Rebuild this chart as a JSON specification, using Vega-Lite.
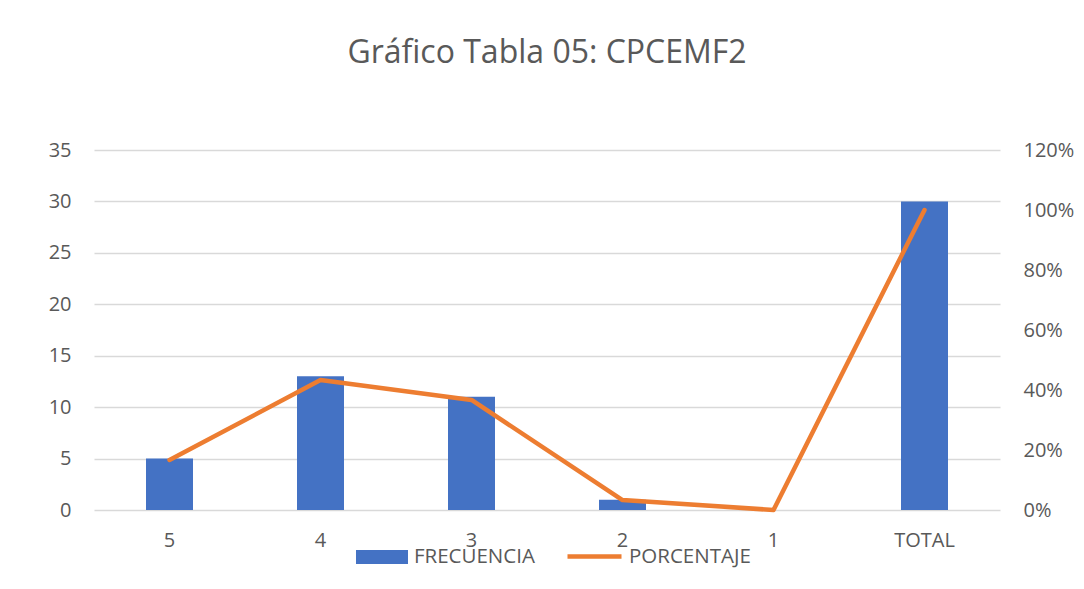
{
  "$schema": "https://vega.github.io/schema/vega-lite/v6.json",
  "width": 906,
  "height": 360,
  "autosize": {"type": "none"},
  "padding": {"left": 94, "top": 150, "right": 84, "bottom": 79},
  "background": "white",
  "config": {
    "view": {"stroke": null},
    "font": "Open Sans",
    "legend": {"orient": "none", "direction": "horizontal", "labelFont": "Open Sans", "labelFontSize": 20.5, "labelColor": "#595959", "labelOffset": 5, "padding": 0}
  },
  "title": {"text": "Gráfico Tabla 05: CPCEMF2", "fontSize": 32, "font": "Open Sans", "fontWeight": "normal", "color": "#595959", "offset": 70, "anchor": "middle"},
  "data": {"values": [
    {"cat": "5", "FRECUENCIA": 5, "PORCENTAJE": 0.1667},
    {"cat": "4", "FRECUENCIA": 13, "PORCENTAJE": 0.4333},
    {"cat": "3", "FRECUENCIA": 11, "PORCENTAJE": 0.3667},
    {"cat": "2", "FRECUENCIA": 1, "PORCENTAJE": 0.0333},
    {"cat": "1", "FRECUENCIA": 0, "PORCENTAJE": 0},
    {"cat": "TOTAL", "FRECUENCIA": 30, "PORCENTAJE": 1}
  ]},
  "layer": [
    {
      "mark": {"type": "bar", "size": 47},
      "encoding": {
        "x": {"field": "cat", "type": "nominal", "sort": null, "scale": {"paddingInner": 0, "paddingOuter": 0},
          "axis": {"title": null, "labelAngle": 0, "domain": false, "ticks": false, "labelPadding": 20, "labelFontSize": 20, "labelColor": "#595959", "labelFont": "Open Sans"}},
        "y": {"field": "FRECUENCIA", "type": "quantitative", "scale": {"domain": [0, 35]},
          "axis": {"title": null, "values": [0, 5, 10, 15, 20, 25, 30, 35], "domain": false, "ticks": false, "grid": true, "gridColor": "#d9d9d9", "gridWidth": 1.3, "labelPadding": 23, "labelFontSize": 20, "labelColor": "#595959", "labelFont": "Open Sans"}},
        "color": {"datum": "FRECUENCIA", "scale": {"range": ["#4472C4"]},
          "legend": {"title": null, "legendX": 261, "legendY": 380, "symbolType": "M-0.963,-0.26L0.963,-0.26L0.963,0.26L-0.963,0.26Z", "symbolSize": 2916, "symbolStrokeWidth": 0, "symbolOpacity": 1}}
      }
    },
    {
      "mark": {"type": "line", "strokeWidth": 4.5, "strokeCap": "round", "strokeJoin": "round"},
      "encoding": {
        "x": {"field": "cat", "type": "nominal", "sort": null},
        "y": {"field": "PORCENTAJE", "type": "quantitative", "scale": {"domain": [0, 1.2]},
          "axis": {"title": null, "orient": "right", "format": ".0%", "values": [0, 0.2, 0.4, 0.6, 0.8, 1, 1.2], "domain": false, "ticks": false, "grid": false, "labelPadding": 23, "labelFontSize": 20, "labelColor": "#595959", "labelFont": "Open Sans"}},
        "color": {"datum": "PORCENTAJE", "scale": {"range": ["#ED7D31"]},
          "legend": {"title": null, "legendX": 471, "legendY": 377, "symbolType": "stroke", "symbolSize": 2916, "symbolStrokeWidth": 4.5}}
      }
    }
  ],
  "resolve": {"scale": {"y": "independent", "color": "independent"}}
}
